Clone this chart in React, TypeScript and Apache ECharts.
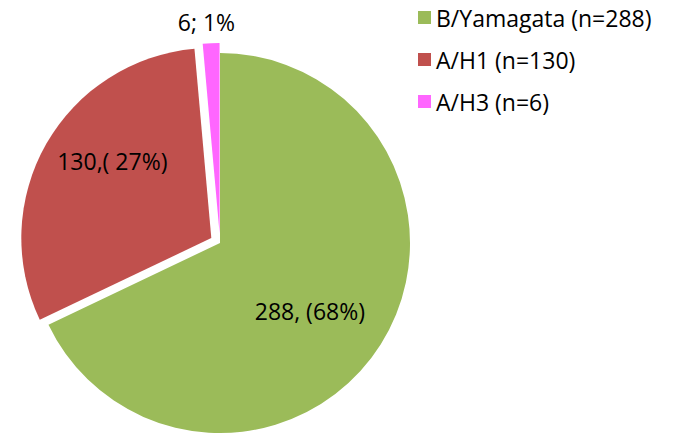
import React, { useEffect, useRef } from "react";
import * as echarts from "echarts";

const categories = ["B/Yamagata (n=288)", "A/H1 (n=130)", "A/H3 (n=6)"];
const values = [288, 130, 6];
const sliceLabels = ["288, (68%)", "130,( 27%)", "6; 1%"];
const colors = ["#9BBB59", "#C0504D", "#FF66FF"];

export default function App() {
  const ref = useRef<HTMLDivElement>(null);
  useEffect(() => {
    const chart = echarts.init(ref.current!, undefined, { renderer: "svg" });
    const font = "Open Sans";
    const fs = 23;
    const labelCfg = (i: number) =>
      i === 2
        ? { show: true, position: "outside", formatter: sliceLabels[i], offset: [24, -16], fontFamily: font, fontSize: fs, color: "#000" }
        : {
            show: true,
            position: "inside",
            formatter: sliceLabels[i],
            offset: i === 0 ? [7, 16] : [-4, -23],
            fontFamily: font,
            fontSize: fs,
            color: "#000",
          };
    chart.setOption({
      animation: false,
      backgroundColor: "#ffffff",
      legend: {
        orient: "vertical",
        left: 413,
        top: 1,
        itemWidth: 13,
        itemHeight: 13,
        itemGap: 19,
        icon: "rect",
        textStyle: { fontFamily: font, fontSize: fs, lineHeight: 23, color: "#000" },
        data: categories,
      },
      series: [
        {
          type: "pie",
          center: [220, 243],
          radius: 190,
          startAngle: 90,
          clockwise: true,
          selectedMode: "multiple",
          selectedOffset: 10,
          labelLine: { show: false },
          emphasis: { disabled: true },
          label: { fontFamily: font, fontSize: fs, color: "#000" },
          data: categories.map((c, i) => ({
            name: c,
            value: values[i],
            selected: i > 0,
            itemStyle: { color: colors[i] },
            label: labelCfg(i),
            select: { label: labelCfg(i), itemStyle: { color: colors[i] } },
          })),
        },
      ],
    });
    return () => chart.dispose();
  }, []);
  return (
    <div
      ref={ref}
      style={{ position: "absolute", left: 0, top: 0, width: 673, height: 434 }}
    />
  );
}
